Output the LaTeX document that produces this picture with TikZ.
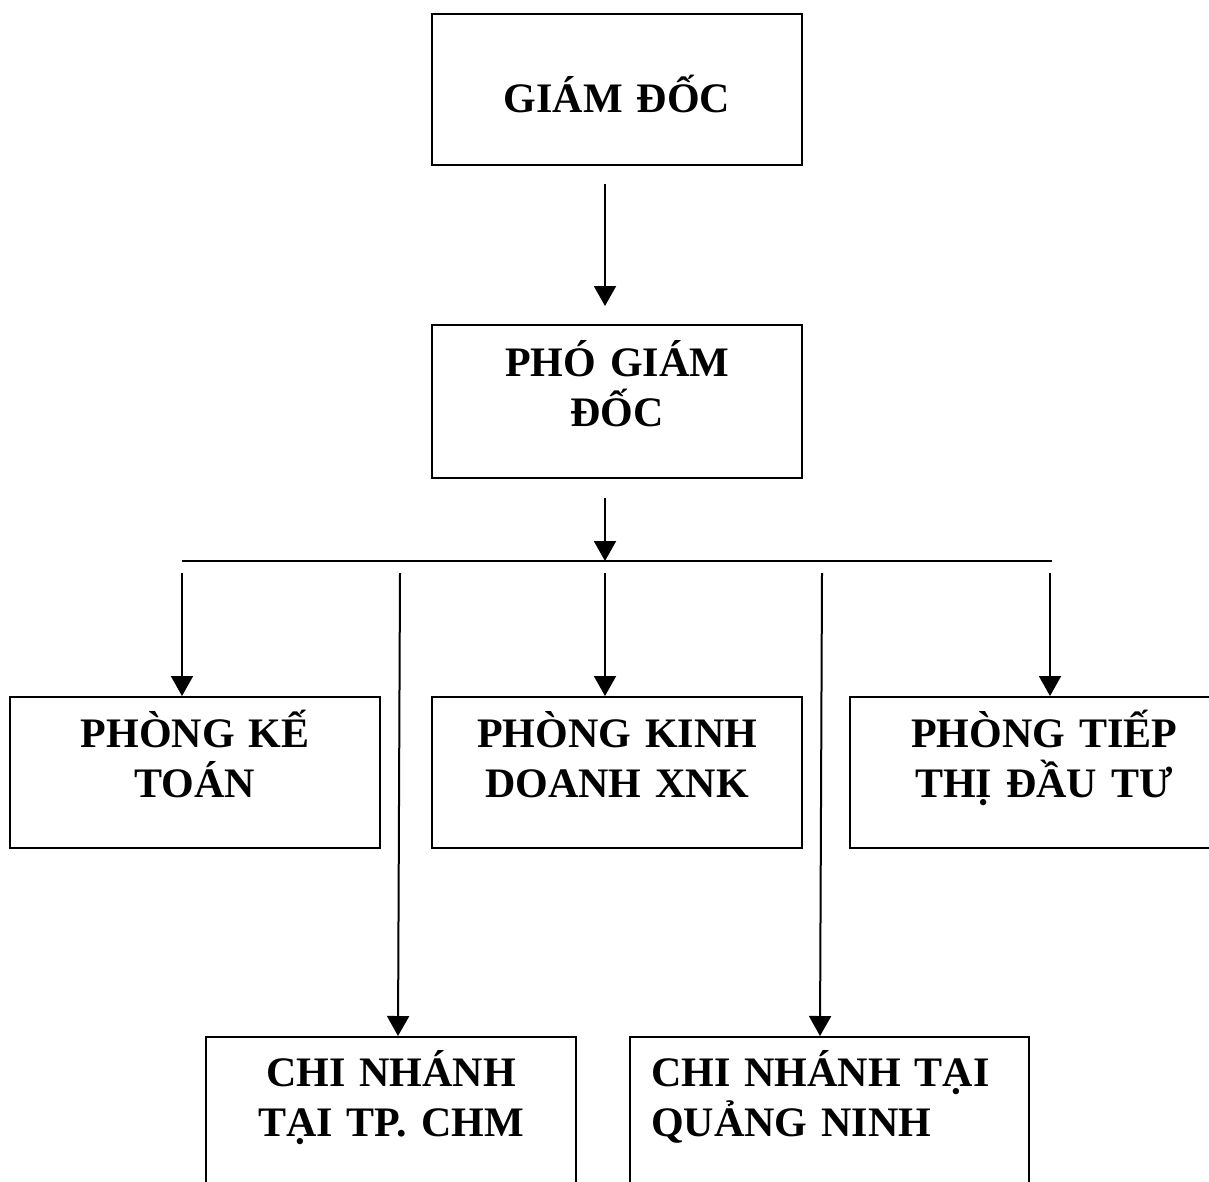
\documentclass[tikz,border=0pt]{standalone}
\usepackage{fontspec}
\setmainfont{Liberation Serif}
\usetikzlibrary{arrows.meta,positioning}
\tikzset{
    unitbox/.style={
           rectangle,
           draw=black, line width=2pt,
           minimum width=370pt,
           minimum height=151pt,
           inner sep=0pt,
           },
}
\tikzset{
    boxtext/.style={
           anchor=base,
           text width=360pt,
           align=center,
           inner sep=0pt,
           font=\bfseries\fontsize{42}{50}\selectfont,
           },
}
\tikzset{
    linkarrow/.style={
           line width=2pt,
           -{Triangle[length=20pt,width=22pt]},
           },
}

\begin{document}
\begin{tikzpicture}[x=1pt,y=1pt]
\useasboundingbox (0,0) rectangle (1209,-1182);
% khung
\node[unitbox](gd) at (617,-89.5){};
\node[unitbox,minimum height=153pt](pgd) at (617,-401.5){};
\node[unitbox](ketoan) at (195,-772.5){};
\node[unitbox](kinhdoanh) at (617,-772.5){};
\node[unitbox](tiepthi) at (1035,-772.5){};
\node[unitbox](cnhcm) at (391,-1112.5){};
\node[unitbox,minimum width=399pt](cnqn) at (829.5,-1112.5){};
% chu
\node[boxtext](gdtext) at ([yshift=-100pt]gd.north){GIÁM ĐỐC};
\node[boxtext](pgdtext) at ([yshift=-52pt]pgd.north){PHÓ GIÁM\\ĐỐC};
\node[boxtext](ketoantext) at ([yshift=-51pt]ketoan.north){PHÒNG KẾ\\TOÁN};
\node[boxtext](kinhdoanhtext) at ([yshift=-51pt]kinhdoanh.north){PHÒNG KINH\\DOANH XNK};
\node[boxtext](tiepthitext) at ([xshift=9pt,yshift=-51pt]tiepthi.north){PHÒNG TIẾP\\THỊ ĐẦU TƯ};
\node[boxtext](cnhcmtext) at ([yshift=-50pt]cnhcm.north){CHI NHÁNH\\TẠI TP. CHM};
\node[boxtext,align=left,anchor=base west](cnqntext) at ([xshift=22pt,yshift=-50pt]cnqn.north west){CHI NHÁNH TẠI\\QUẢNG NINH};
% duong noi
\coordinate (barL) at (182,-561);
\coordinate (barR) at (1052,-561);
\coordinate (hub) at (605,-561);
\draw[line width=1.5pt] (barL) -- (barR);
\draw[linkarrow] ([xshift=-12pt,yshift=-18pt]gd.south) -- ([xshift=-12pt,yshift=18pt]pgd.north);
\draw[linkarrow] ([xshift=-12pt,yshift=-19pt]pgd.south) -- (hub);
\foreach \x/\dest/\dx in {182/ketoan/-13,400/cnhcm/7,605/kinhdoanh/-12,822/cnqn/-9.5,1050/tiepthi/15}{
  \coordinate (top-\dest) at (\x,-573);
  \draw[linkarrow] (top-\dest) -- ([xshift=\dx pt]\dest.north);
}
\end{tikzpicture}
\end{document}
